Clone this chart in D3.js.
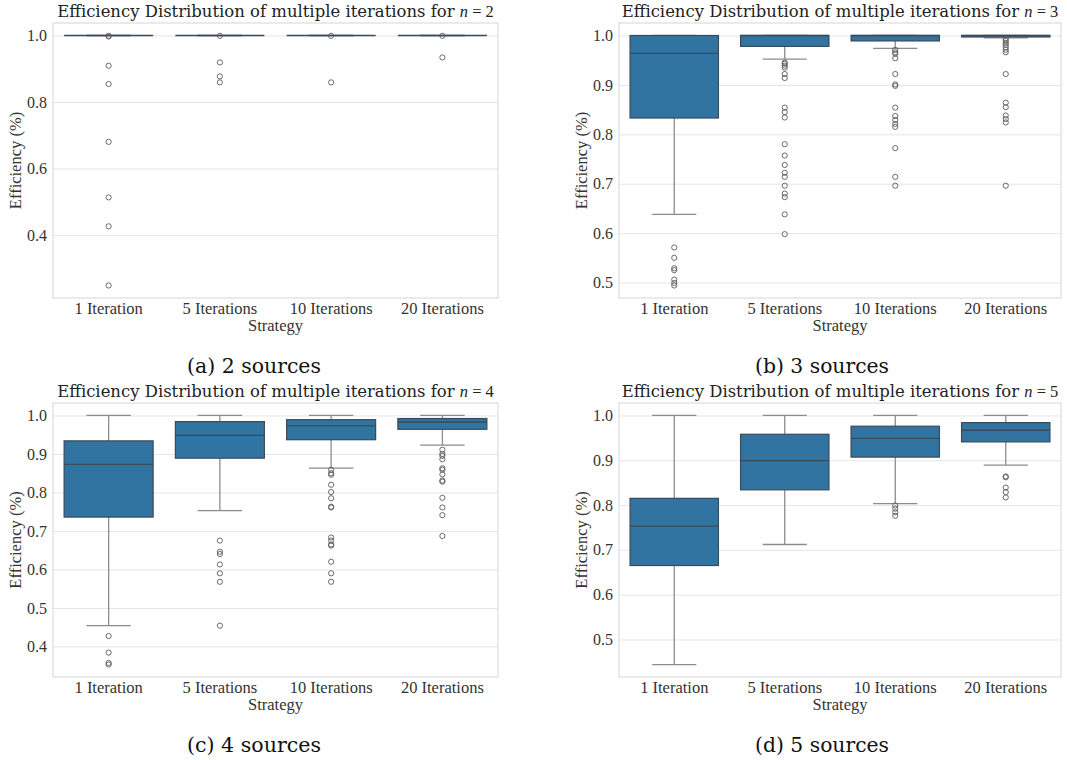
<!DOCTYPE html>
<html>
<head>
<meta charset="utf-8">
<script src="https://cdn.jsdelivr.net/npm/d3@7"></script>
<style>
  html, body { margin: 0; padding: 0; background: #ffffff; }
  svg { display: block; }
</style>
</head>
<body>
<svg id="chart" width="1067" height="760"></svg>
<script>
// ---------------- DATA ----------------
const categories = ["1 Iteration", "5 Iterations", "10 Iterations", "20 Iterations"];
const nValues = [2, 3, 4, 5];
const captions = ["(a) 2 sources", "(b) 3 sources", "(c) 4 sources", "(d) 5 sources"];

// box statistics per category: [whiskerLow, q1, median, q3, whiskerHigh]
const statsN2 = [
  [1.0, 1.0, 1.0, 1.0, 1.0],
  [1.0, 1.0, 1.0, 1.0, 1.0],
  [1.0, 1.0, 1.0, 1.0, 1.0],
  [1.0, 1.0, 1.0, 1.0, 1.0]
];
const statsN3 = [
  [0.638, 0.833, 0.964, 1.0, 1.0],
  [0.952, 0.978, 1.0, 1.0, 1.0],
  [0.974, 0.989, 1.0, 1.0, 1.0],
  [0.995, 0.997, 1.0, 1.0, 1.0]
];
const statsN4 = [
  [0.454, 0.736, 0.873, 0.934, 1.0],
  [0.753, 0.889, 0.948, 0.984, 1.0],
  [0.863, 0.937, 0.973, 0.989, 1.0],
  [0.923, 0.964, 0.983, 0.992, 1.0]
];
const statsN5 = [
  [0.444, 0.665, 0.753, 0.815, 1.0],
  [0.712, 0.834, 0.899, 0.958, 1.0],
  [0.803, 0.907, 0.949, 0.976, 1.0],
  [0.889, 0.941, 0.967, 0.984, 1.0]
];

// outliers per category
const outliersN2 = [
  [0.999, 0.997, 0.909, 0.854, 0.680, 0.513, 0.426, 0.248],
  [0.999, 0.919, 0.877, 0.859],
  [0.999, 0.859],
  [0.999, 0.934]
];
const outliersN3 = [
  [0.571, 0.550, 0.529, 0.525, 0.506, 0.499, 0.494],
  [0.945, 0.943, 0.939, 0.935, 0.922, 0.914, 0.854, 0.845, 0.834, 0.780, 0.757, 0.738, 0.722, 0.714, 0.696, 0.680, 0.673, 0.638, 0.598],
  [0.971, 0.966, 0.963, 0.954, 0.922, 0.901, 0.898, 0.854, 0.837, 0.829, 0.821, 0.815, 0.772, 0.714, 0.696],
  [0.993, 0.989, 0.985, 0.981, 0.976, 0.971, 0.966, 0.922, 0.864, 0.855, 0.838, 0.831, 0.824, 0.696]
];
const outliersN4 = [
  [0.427, 0.384, 0.357, 0.353],
  [0.675, 0.646, 0.640, 0.613, 0.590, 0.568, 0.454],
  [0.859, 0.850, 0.846, 0.820, 0.801, 0.785, 0.763, 0.761, 0.683, 0.675, 0.665, 0.662, 0.620, 0.590, 0.568],
  [0.911, 0.900, 0.895, 0.886, 0.863, 0.859, 0.847, 0.831, 0.828, 0.786, 0.761, 0.741, 0.687]
];
const outliersN5 = [
  [],
  [],
  [0.799, 0.792, 0.784, 0.776],
  [0.864, 0.862, 0.839, 0.829, 0.817]
];

const yTicksN2 = [0.4, 0.6, 0.8, 1.0];
const yTicksN3 = [0.5, 0.6, 0.7, 0.8, 0.9, 1.0];
const yTicksN4 = [0.4, 0.5, 0.6, 0.7, 0.8, 0.9, 1.0];
const yTicksN5 = [0.5, 0.6, 0.7, 0.8, 0.9, 1.0];

// ---------------- LAYOUT / STYLE ----------------
const panels = [
  { stats: statsN2, outliers: outliersN2, ticks: yTicksN2, n: nValues[0], caption: captions[0], x0: 53,  x1: 498,  y0: 23,  y1: 298, capX: 254 },
  { stats: statsN3, outliers: outliersN3, ticks: yTicksN3, n: nValues[1], caption: captions[1], x0: 619, x1: 1061, y0: 23,  y1: 298, capX: 822 },
  { stats: statsN4, outliers: outliersN4, ticks: yTicksN4, n: nValues[2], caption: captions[2], x0: 53,  x1: 498,  y0: 403, y1: 677, capX: 254 },
  { stats: statsN5, outliers: outliersN5, ticks: yTicksN5, n: nValues[3], caption: captions[3], x0: 619, x1: 1061, y0: 403, y1: 677, capX: 822 }
];

const BOX_FILL = "#3274a1";
const BOX_EDGE = "#3b4a58";
const WHISKER = "#8c8c8c";
const GRID = "#e5e5e5";
const SPINE = "#d6d6d6";
const TEXT = "#333333";
const SERIF_TICK = "'Liberation Serif', 'DejaVu Serif', serif";
const SERIF_TITLE = "'DejaVu Serif', 'Liberation Serif', serif";

const svg = d3.select("#chart");

function fitWidth(textSel, target) {
  const node = textSel.node();
  const w = node.getComputedTextLength();
  const fs = parseFloat(textSel.attr("font-size"));
  if (w > 0) textSel.attr("font-size", (fs * target / w).toFixed(2));
}

panels.forEach((p) => {
  const g = svg.append("g");

  // y extent with 5% margin like matplotlib autoscale
  const allVals = [];
  p.stats.forEach(s => s.forEach(v => allVals.push(v)));
  p.outliers.forEach(o => o.forEach(v => allVals.push(v)));
  const lo = d3.min(allVals), hi = d3.max(allVals);
  const m = (hi - lo) * 0.05;

  const y = d3.scaleLinear().domain([lo - m, hi + m]).range([p.y1, p.y0]);
  const x = d3.scaleBand().domain(categories).range([p.x0, p.x1]).paddingInner(0).paddingOuter(0);
  const bw = x.bandwidth() * 0.8;
  const cw = bw * 0.5;

  // grid lines
  g.append("g")
    .attr("transform", `translate(${p.x0},0)`)
    .call(d3.axisLeft(y).tickValues(p.ticks).tickSize(-(p.x1 - p.x0)).tickFormat(d3.format(".1f")).tickPadding(6))
    .call(a => a.select(".domain").remove())
    .call(a => a.selectAll(".tick line").attr("stroke", GRID).attr("stroke-width", 1))
    .call(a => a.selectAll(".tick text").attr("fill", TEXT).attr("font-family", SERIF_TICK).attr("font-size", 16));

  // frame
  g.append("rect")
    .attr("x", p.x0).attr("y", p.y0)
    .attr("width", p.x1 - p.x0).attr("height", p.y1 - p.y0)
    .attr("fill", "none").attr("stroke", SPINE).attr("stroke-width", 1);

  // x tick labels
  g.append("g")
    .attr("transform", `translate(0,${p.y1})`)
    .call(d3.axisBottom(x).tickSize(0).tickPadding(4))
    .call(a => a.select(".domain").remove())
    .call(a => a.selectAll(".tick text").attr("fill", TEXT).attr("font-family", SERIF_TICK).attr("font-size", 16.5));

  // boxes
  categories.forEach((c, i) => {
    const [wl, q1, med, q3, wh] = p.stats[i];
    const cx = x(c) + x.bandwidth() / 2;
    const bg = g.append("g");
    // whiskers
    bg.append("line").attr("x1", cx).attr("x2", cx).attr("y1", y(q1)).attr("y2", y(wl))
      .attr("stroke", WHISKER).attr("stroke-width", 1.3);
    bg.append("line").attr("x1", cx).attr("x2", cx).attr("y1", y(q3)).attr("y2", y(wh))
      .attr("stroke", WHISKER).attr("stroke-width", 1.3);
    bg.append("line").attr("x1", cx - cw / 2).attr("x2", cx + cw / 2).attr("y1", y(wl)).attr("y2", y(wl))
      .attr("stroke", WHISKER).attr("stroke-width", 1.3);
    bg.append("line").attr("x1", cx - cw / 2).attr("x2", cx + cw / 2).attr("y1", y(wh)).attr("y2", y(wh))
      .attr("stroke", WHISKER).attr("stroke-width", 1.3);
    // box
    bg.append("rect")
      .attr("x", cx - bw / 2).attr("y", y(q3))
      .attr("width", bw).attr("height", Math.max(0, y(q1) - y(q3)))
      .attr("fill", BOX_FILL).attr("stroke", BOX_EDGE).attr("stroke-width", 1.2);
    // median
    bg.append("line").attr("x1", cx - bw / 2).attr("x2", cx + bw / 2).attr("y1", y(med)).attr("y2", y(med))
      .attr("stroke", BOX_EDGE).attr("stroke-width", 1.3);
    // outliers
    bg.selectAll("circle.out").data(p.outliers[i]).enter().append("circle")
      .attr("class", "out")
      .attr("cx", cx).attr("cy", d => y(d)).attr("r", 2.6)
      .attr("fill", "none").attr("stroke", "#5a5a5a").attr("stroke-width", 0.9);
  });

  // title
  const cxp = (p.x0 + p.x1) / 2;
  const title = g.append("text")
    .attr("x", cxp).attr("y", p.y0 - 6)
    .attr("text-anchor", "middle")
    .attr("font-family", SERIF_TITLE).attr("font-size", 16).attr("fill", "#222");
  title.append("tspan").text("Efficiency Distribution of multiple iterations for ");
  title.append("tspan").attr("font-style", "italic").attr("font-family", SERIF_TICK).text("n");
  title.append("tspan").attr("font-family", SERIF_TICK).text(" = " + p.n);
  fitWidth(title, 437);

  // axis labels
  g.append("text")
    .attr("x", cxp).attr("y", p.y1 + 33)
    .attr("text-anchor", "middle")
    .attr("font-family", SERIF_TICK).attr("font-size", 16.5).attr("fill", TEXT)
    .text("Strategy");
  g.append("text")
    .attr("transform", `translate(${p.x0 - 32},${(p.y0 + p.y1) / 2}) rotate(-90)`)
    .attr("text-anchor", "middle")
    .attr("font-family", SERIF_TICK).attr("font-size", 16.5).attr("fill", TEXT)
    .text("Efficiency (%)");

  // caption
  const cap = g.append("text")
    .attr("x", p.capX).attr("y", p.y1 + 75)
    .attr("text-anchor", "middle")
    .attr("font-family", SERIF_TITLE).attr("font-size", 20).attr("fill", "#111")
    .text(p.caption);
  fitWidth(cap, 134);
});
</script>
</body>
</html>
